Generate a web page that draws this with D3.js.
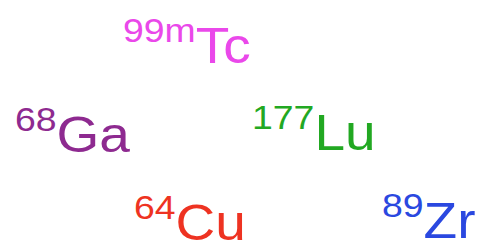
<!DOCTYPE html>
<html>
    <head>
        <script src="https://d3js.org/d3.v7.min.js"></script>
        <style>
            body { margin: 0; background: #fff; }
            text { font-family: "Liberation Sans", Arial, sans-serif; }
        </style>
    </head>
    <body>
        <svg id="myCanvas" width="480" height="241"></svg>
        <script>
            // isotope labels
            var mass = ["99m", "68", "177", "64", "89"];
            var symbol = ["Tc", "Ga", "Lu", "Cu", "Zr"];
            var colors = ["#ea48ea", "#8e2a90", "#22a822", "#ee3322", "#2a48e0"];
            // label anchor (left of superscript, baseline of symbol) in picture units
            var posX = [123, 15, 252, 134, 382];
            var posY = [63, 152, 150, 240, 238];

            var data = mass.map((m, i) => ({mass: m, symbol: symbol[i], color: colors[i], x: posX[i], y: posY[i]}));

            svg = d3.select("#myCanvas");
            w = +svg.attr("width");
            h = +svg.attr("height");

            x = d3.scaleLinear([0, 480], [0, w]);
            y = d3.scaleLinear([0, 241], [0, h]);

            // the source lettering is a bit wider than Liberation Sans
            labels = svg.selectAll("text")
                .data(data)
                .enter()
                .append("text")
                .attr("transform", d => "translate(" + x(d.x) + "," + y(d.y) + ") scale(1.1,1)")
                .attr("fill", d => d.color);

            labels.append("tspan")
                .attr("font-size", 34)
                .attr("dy", -21)
                .text(d => d.mass);

            labels.append("tspan")
                .attr("font-size", 50)
                .attr("dy", 21)
                .text(d => d.symbol);
        </script>
    </body>
</html>
